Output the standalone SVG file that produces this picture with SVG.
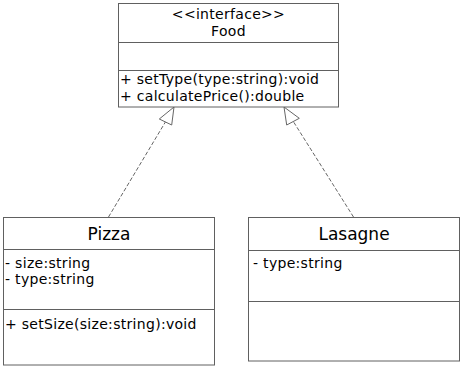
<svg xmlns="http://www.w3.org/2000/svg" width="467" height="371" viewBox="0 0 467 371">
<style>
.box{fill:#fff;stroke:#606060;stroke-width:1}
.div{stroke:#606060;stroke-width:1}
.t{font-family:"DejaVu Sans",sans-serif;font-size:14px;letter-spacing:0.3px;fill:#000}
.title{font-family:"DejaVu Sans",sans-serif;font-size:17px;fill:#000}
.c{text-anchor:middle}
.conn{fill:none;stroke:#666;stroke-width:1;stroke-dasharray:4,2}
.head{fill:#fff;stroke:#666;stroke-width:1}
</style>
<rect width="467" height="371" fill="#fff"/>
<g id="connectors">
<line class="conn" x1="108.5" y1="217" x2="166" y2="121"/>
<polygon class="head" points="174,107 171.7,125 159.3,119"/>
<line class="conn" x1="353.5" y1="217" x2="293" y2="121"/>
<polygon class="head" points="284,107 299.3,118.3 286.7,125"/>
</g>
<g id="food">
<rect class="box" x="118.5" y="3.5" width="220" height="103.5"/>
<line class="div" x1="118.5" y1="42.5" x2="338.5" y2="42.5"/>
<line class="div" x1="118.5" y1="70.5" x2="338.5" y2="70.5"/>
<text class="t c" x="228.5" y="19">&lt;&lt;interface&gt;&gt;</text>
<text class="t c" x="228.5" y="36">Food</text>
<text class="t" x="120" y="84">+ setType(type:string):void</text>
<text class="t" x="120" y="101">+ calculatePrice():double</text>
</g>
<g id="pizza">
<rect class="box" x="3.5" y="217.5" width="211" height="147.5"/>
<line class="div" x1="3.5" y1="249.5" x2="214.5" y2="249.5"/>
<line class="div" x1="3.5" y1="309.5" x2="214.5" y2="309.5"/>
<text class="title c" x="109" y="239.5">Pizza</text>
<text class="t" x="5" y="267.5">- size:string</text>
<text class="t" x="5" y="284">- type:string</text>
<text class="t" x="5" y="328.5">+ setSize(size:string):void</text>
</g>
<g id="lasagne">
<rect class="box" x="248.5" y="217.5" width="211" height="143.5"/>
<line class="div" x1="248.5" y1="250.5" x2="459.5" y2="250.5"/>
<line class="div" x1="248.5" y1="301.5" x2="459.5" y2="301.5"/>
<text class="title c" x="354" y="239.5">Lasagne</text>
<text class="t" x="253" y="268">- type:string</text>
</g>
</svg>
